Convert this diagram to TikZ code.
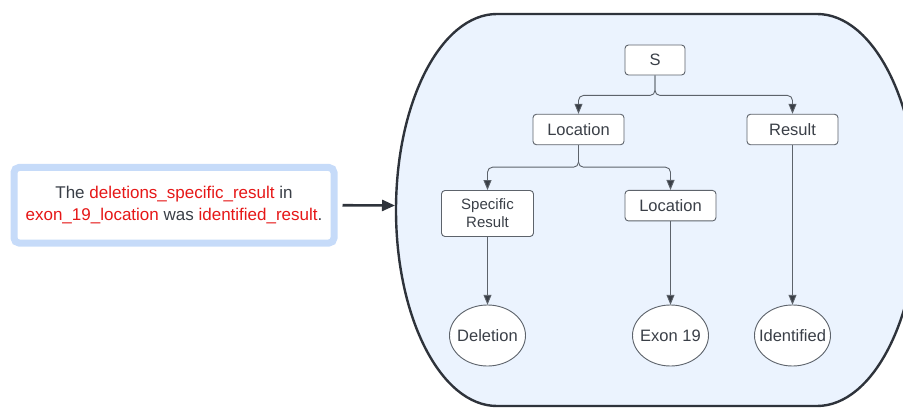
\documentclass[tikz,border=0pt]{standalone}
\usepackage{fontspec}
\setmainfont{Liberation Sans}
\usetikzlibrary{arrows.meta,shapes.geometric}
\definecolor{bgblue}{HTML}{EBF3FE}
\definecolor{frameline}{HTML}{2E333B}
\definecolor{boxline}{HTML}{5D636B}
\definecolor{ink}{HTML}{3A3F47}
\definecolor{redtxt}{HTML}{E61717}
\definecolor{lightb}{HTML}{C6DBF9}
\begin{document}
\begin{tikzpicture}[x=1pt,y=-1pt,
  treebox/.style={draw=boxline, line width=0.9pt, fill=white, rounded corners=3.5pt,
    inner sep=0pt, text=ink, font=\fontsize{16.5}{18}\selectfont, align=center},
  leaf/.style={rectangle, inner sep=0pt,
    minimum width=76pt, minimum height=61pt, text=ink, font=\fontsize{16.5}{18}\selectfont},
  leafshape/.style={draw=boxline, line width=0.9pt, fill=white},
  conn/.style={draw=boxline, line width=0.9pt, rounded corners=5pt,
    -{Triangle[length=10pt,width=8pt,fill=ink]}},
  bigarrow/.style={draw=frameline, line width=2.6pt, -{Triangle[length=13pt,width=11pt]}},
  sentbox/.style={draw=lightb, line width=7pt, fill=white, rounded corners=5pt,
    minimum width=320pt, minimum height=75.5pt, inner sep=0pt, align=center,
    font=\fontsize{17}{22}\selectfont, text=ink}
]
\path[use as bounding box] (0,0) rectangle (903,409);
\clip (0,0) rectangle (903,409);

% big frame
\draw[frameline, line width=2.4pt, fill=bgblue]
  (497,14) -- (817,14)
  .. controls (872.8,14) and (918,101.7) .. (918,210)
  .. controls (918,318.3) and (872.8,406) .. (817,406)
  -- (497,406)
  .. controls (441.2,406) and (396,318.3) .. (396,210)
  .. controls (396,101.7) and (441.2,14) .. (497,14) -- cycle;
\coordinate (frameW) at (395,205.5);

% sentence box
\node[sentbox] (sent) at (174,205.25)
  {The \textcolor{redtxt}{deletions\_specific\_result} in\\
   \textcolor{redtxt}{exon\_19\_location} was \textcolor{redtxt}{identified\_result}.};
\draw[bigarrow] ([xshift=5pt]sent.east) -- (frameW);

% tree nodes
\node[treebox, minimum width=60pt, minimum height=30pt] (S) at (655,60) {S};
\node[treebox, minimum width=91pt, minimum height=30.5pt] (L1) at (578.5,129.5) {Location};
\node[treebox, minimum width=91pt, minimum height=30.5pt] (R) at (792.5,129.5) {Result};
\node[treebox, minimum width=92pt, minimum height=46pt, font=\fontsize{15}{18}\selectfont] (SR) at (487.5,213.5) {Specific\\Result};
\node[treebox, minimum width=91pt, minimum height=30.5pt] (L2) at (670.5,205.7) {Location};

% leaves: ellipse outline drawn first, then the text node on it
\draw[leafshape] (487.5,335.5) ellipse [x radius=38, y radius=30.5];
\draw[leafshape] (670.5,335.5) ellipse [x radius=38, y radius=30.5];
\draw[leafshape] (792.5,335.5) ellipse [x radius=38, y radius=30.5];
\node[leaf] (Del) at (487.5,335.5) {Deletion};
\node[leaf] (Ex) at (670.5,335.5) {Exon 19};
\node[leaf] (Id) at (792.5,335.5) {Identified};

% connectors
\draw[conn] (S.south) -- ++(0,20) -| (L1.north);
\draw[conn] (S.south) -- ++(0,20) -| (R.north);
\draw[conn] (L1.south) -- ++(0,22) -| (SR.north);
\draw[conn] (L1.south) -- ++(0,22) -| (L2.north);
\draw[conn] (SR.south) -- (Del.north);
\draw[conn] (L2.south) -- (Ex.north);
\draw[conn] (R.south) -- (Id.north);
\end{tikzpicture}
\end{document}
